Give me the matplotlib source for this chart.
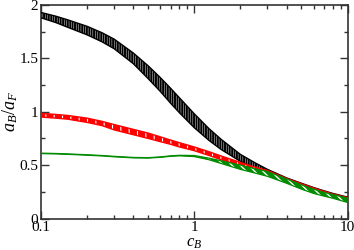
import matplotlib
matplotlib.use("Agg")
import matplotlib.pyplot as plt
import numpy as np

plt.rcParams['font.family'] = ['Liberation Serif', 'DejaVu Serif']
plt.rcParams['mathtext.fontset'] = 'custom'
plt.rcParams['mathtext.it'] = 'Liberation Serif:italic'
plt.rcParams['mathtext.rm'] = 'Liberation Serif'

c = [0.1, 0.125, 0.15, 0.2, 0.25, 0.3, 0.4, 0.5, 0.6, 0.7, 0.8, 1.0,
     1.25, 1.5, 2.0, 2.5, 3.0, 4.0, 5.0, 6.0, 7.0, 8.0, 10.0]

black_hi = [1.93, 1.895, 1.86, 1.80, 1.74, 1.68, 1.55, 1.43, 1.32, 1.22, 1.13, 0.98,
            0.84, 0.74, 0.60, 0.52, 0.46, 0.38, 0.33, 0.29, 0.26, 0.235, 0.20]
black_lo = [1.88, 1.835, 1.79, 1.72, 1.655, 1.59, 1.45, 1.31, 1.19, 1.08, 0.99, 0.85,
            0.73, 0.645, 0.535, 0.47, 0.425, 0.355, 0.305, 0.27, 0.24, 0.215, 0.18]

red_hi = [0.985, 0.975, 0.965, 0.94, 0.91, 0.88, 0.835, 0.80, 0.765, 0.735, 0.71, 0.67,
          0.625, 0.585, 0.525, 0.48, 0.45, 0.375, 0.325, 0.285, 0.255, 0.23, 0.195]
red_lo = [0.95, 0.94, 0.93, 0.90, 0.87, 0.83, 0.785, 0.75, 0.72, 0.695, 0.67, 0.635,
          0.59, 0.55, 0.495, 0.455, 0.42, 0.35, 0.30, 0.265, 0.235, 0.21, 0.175]

green_hi = [0.612, 0.609, 0.605, 0.597, 0.59, 0.582, 0.572, 0.57, 0.577, 0.587, 0.592, 0.59,
            0.565, 0.54, 0.50, 0.465, 0.44, 0.37, 0.315, 0.275, 0.245, 0.225, 0.19]
green_lo = [0.608, 0.605, 0.601, 0.593, 0.586, 0.578, 0.568, 0.566, 0.573, 0.583, 0.587, 0.58,
            0.55, 0.515, 0.46, 0.425, 0.395, 0.33, 0.275, 0.235, 0.21, 0.19, 0.15]

xticks = [0.1, 1, 10]
xticklabels = ['0.1', '1', '10']
yticks = [0, 0.5, 1, 1.5, 2]
yticklabels = ['0', '0.5', '1', '1.5', '2']

fig = plt.figure(figsize=(3.54, 2.50), dpi=100)
ax = fig.add_axes([0.116, 0.126, 0.866, 0.854])

GREEN = '#008b00'
# black band
plt.rcParams['hatch.linewidth'] = 1.4
ax.fill_between(c, black_lo, black_hi, facecolor='white', edgecolor='black',
                hatch='|||||||', linewidth=0, zorder=2)
ax.plot(c, black_hi, color='black', lw=1.0, zorder=3)
ax.plot(c, black_lo, color='black', lw=1.0, zorder=3)

# red band
plt.rcParams['hatch.linewidth'] = 0.8
ax.fill_between(c, red_lo, red_hi, facecolor='red', edgecolor='white',
                hatch='||', linewidth=0, zorder=4)
ax.plot(c, red_hi, color='red', lw=1.0, zorder=5)
ax.plot(c, red_lo, color='red', lw=1.0, zorder=5)

# green band
plt.rcParams['hatch.linewidth'] = 1.0
ax.fill_between(c, green_lo, green_hi, facecolor=GREEN, edgecolor='white',
                hatch='\\\\\\\\', linewidth=0, zorder=6)
ax.plot(c, green_hi, color=GREEN, lw=0.9, zorder=7)
ax.plot(c, green_lo, color=GREEN, lw=0.9, zorder=7)

ax.set_xscale('log')
ax.set_xlim(0.1, 10)
ax.set_ylim(0, 2)
ax.set_xticks(xticks)
ax.set_xticklabels(xticklabels)
ax.set_yticks(yticks)
ax.set_yticklabels(yticklabels)
ax.set_yticks([0.25, 0.75, 1.25, 1.75], minor=True)
ax.xaxis.set_minor_locator(matplotlib.ticker.LogLocator(base=10, subs=np.arange(2, 10)))
ax.xaxis.set_minor_formatter(matplotlib.ticker.NullFormatter())

ax.tick_params(which='both', direction='in', top=True, right=True,
               labelsize=11, width=1.0, color='#333333', pad=2)
ax.tick_params(which='major', length=6)
ax.tick_params(which='minor', length=3)
for s in ax.spines.values():
    s.set_linewidth(1.2)
    s.set_color('#333333')

ax.set_xlabel(r'$c_B$', fontsize=12)
ax.set_ylabel(r'$a_B/a_F$', fontsize=13)
ax.xaxis.set_label_coords(0.5, -0.078)
ax.yaxis.set_label_coords(-0.07, 0.5)

fig.savefig('out.png', dpi=100)
